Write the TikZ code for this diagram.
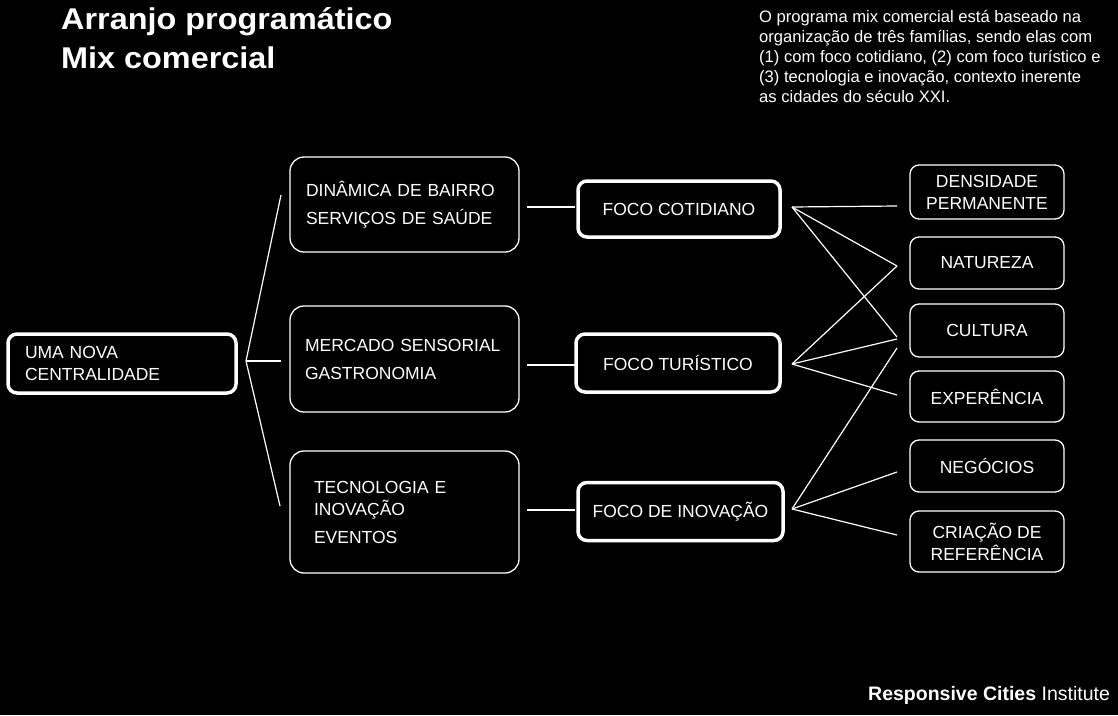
\documentclass[tikz,border=0pt]{standalone}
\usepackage{fontspec}
\setmainfont{Liberation Sans}
\begin{document}
\begin{tikzpicture}[x=1pt,y=-1pt,
  every node/.style={text=white, font=\fontsize{17.5}{22}\selectfont},
  thinbox/.style={draw=white, line width=1.3pt, rounded corners=14pt, inner sep=0pt, minimum width=229pt, align=left},
  thickbox/.style={draw=white, line width=3.5pt, rounded corners=9pt, inner sep=0pt},
  tagbox/.style={draw=white, line width=1.3pt, rounded corners=9pt, inner sep=0pt, minimum width=154pt, align=center},
  link/.style={draw=white, line width=1.2pt},
  plain/.style={inner sep=0pt, anchor=base west}]
\fill[black] (0,0) rectangle (1118,715);
\useasboundingbox (0,0) rectangle (1118,715);

% titles
\node[plain, font=\fontsize{30}{36}\bfseries] (t1) at (61,29) {\scalebox{1.08}[1]{Arranjo programático}};
\node[plain, font=\fontsize{30}{36}\bfseries] (t2) at (61,68) {\scalebox{1.08}[1]{Mix comercial}};
\node[plain, font=\fontsize{16.6}{20}\selectfont, align=left] (para) at (759,102)
  {O programa mix comercial está baseado na\\
   organização de três famílias, sendo elas com\\
   (1) com foco cotidiano, (2) com foco turístico e\\
   (3) tecnologia e inovação, contexto inerente\\
   as cidades do século XXI.};
\node[plain, font=\fontsize{19.5}{23}\selectfont] (foot) at (868,700) {\textbf{Responsive Cities} Institute};

% main nodes
\node[thickbox, minimum width=228pt, minimum height=59pt, text width=194pt, align=left] (uma) at (122,363.5) {UMA NOVA\\CENTRALIDADE};
\node[thinbox, minimum height=95pt, text width=197pt] (b1) at (404.5,204.5) {DINÂMICA DE BAIRRO\\[6pt]SERVIÇOS DE SAÚDE};
\node[thinbox, minimum height=106pt, text width=199pt] (b2) at (404.5,359) {MERCADO SENSORIAL\\[6pt]GASTRONOMIA};
\node[thinbox, minimum height=122pt, text width=181pt] (b3) at (404.5,512) {TECNOLOGIA E\\INOVAÇÃO\\[6pt]EVENTOS};

\node[thickbox, minimum width=202pt, minimum height=56pt] (f1) at (679,209) {FOCO COTIDIANO};
\node[thickbox, minimum width=204pt, minimum height=58pt] (f2) at (678,363) {FOCO TURÍSTICO};
\node[thickbox, minimum width=205pt, minimum height=58pt] (f3) at (680.5,511.5) {FOCO DE INOVAÇÃO};

\node[tagbox, minimum height=54pt] (r1) at (987,192) {DENSIDADE\\PERMANENTE};
\node[tagbox, minimum height=52pt] (r2) at (987,263) {NATUREZA};
\node[tagbox, minimum height=53pt] (r3) at (987,330.5) {CULTURA};
\node[tagbox, minimum height=51pt] (r4) at (987,396.5) {EXPERÊNCIA};
\node[tagbox, minimum height=52pt] (r5) at (987,466) {NEGÓCIOS};
\node[tagbox, minimum height=61pt] (r6) at (987,541.5) {CRIAÇÃO DE\\REFERÊNCIA};

% left fan
\coordinate (la) at (246,361);
\coordinate (l1) at (281,195);
\coordinate (l2) at (281,361);
\coordinate (l3) at (280,506);
\draw[link] (l1) -- (la) -- (l3);
\draw[link] (la) -- (l2);

% box to foco
\coordinate (s1a) at (527,207); \coordinate (s1b) at (575,207);
\coordinate (s2a) at (527,365); \coordinate (s2b) at (575,365);
\coordinate (s3a) at (527,510); \coordinate (s3b) at (575,510);
\draw[link] (s1a) -- (s1b);
\draw[link] (s2a) -- (s2b);
\draw[link] (s3a) -- (s3b);

% right fans
\coordinate (a1) at (792,207);
\coordinate (a2) at (792,364);
\coordinate (a3) at (792,509);
\coordinate (e1) at (897,206);
\coordinate (e2) at (897,266);
\coordinate (e3a) at (897,337);
\coordinate (e3b) at (897,339);
\coordinate (e3c) at (897,348);
\coordinate (e4) at (897,395);
\coordinate (e5) at (897,472);
\coordinate (e6) at (897,535);
\draw[link] (a1) -- (e1);
\draw[link] (a1) -- (e2);
\draw[link] (a1) -- (e3a);
\draw[link] (a2) -- (e2);
\draw[link] (a2) -- (e3b);
\draw[link] (a2) -- (e4);
\draw[link] (a3) -- (e3c);
\draw[link] (a3) -- (e5);
\draw[link] (a3) -- (e6);
\end{tikzpicture}
\end{document}
